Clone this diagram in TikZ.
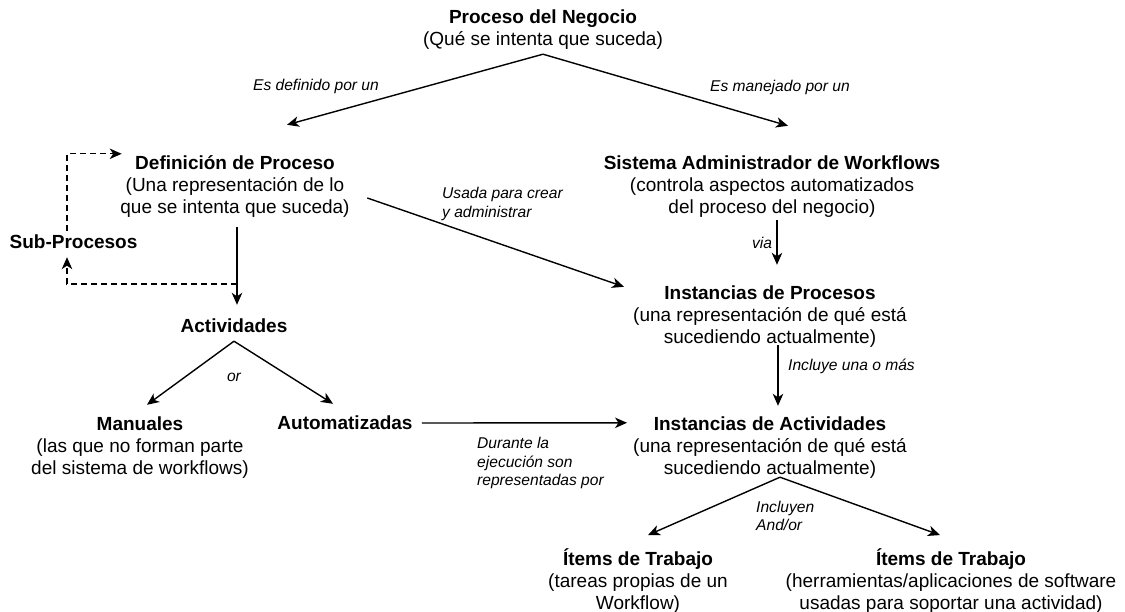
\documentclass[tikz,border=0pt]{standalone}
\usepackage{fontspec}
\setmainfont{Liberation Sans}
\usetikzlibrary{arrows.meta}

\tikzset{
  bloque/.style = {align=center, inner sep=2pt, font=\fontsize{19}{22}\selectfont},
  etiqueta/.style = {inner sep=0pt, font=\fontsize{15.6}{18.7}\selectfont\itshape},
  flecha/.style = {line width=1.4pt, -{Stealth[length=12pt,width=10.5pt,inset=3.5pt]}},
  punteada/.style = {flecha, dash pattern=on 6pt off 4pt}
}

\begin{document}
\begin{tikzpicture}[x=1pt,y=-1pt]
    \useasboundingbox (0,0) rectangle (1125,612);

    \node [bloque] (negocio) at (543,30) {\strut\textbf{Proceso del Negocio}\\\strut(Qué se intenta que suceda)};
    \node [bloque] (definicion) at (235,187) {\strut\textbf{Definición de Proceso}\\\strut(Una representación de lo\\\strut que se intenta que suceda)};
    \node [bloque] (subprocesos) at (73.5,244) {\strut\textbf{Sub-Procesos}};
    \node [bloque] (actividades) at (234,328) {\strut\textbf{Actividades}};
    \node [bloque] (manuales) at (140,448) {\strut\textbf{Manuales}\\\strut(las que no forman parte\\\strut del sistema de workflows)};
    \node [bloque] (automatizadas) at (345,425) {\strut\textbf{Automatizadas}};

    \node [bloque] (sistema) at (772,187) {\strut\textbf{Sistema Administrador de Workflows}\\\strut(controla aspectos automatizados\\\strut del proceso del negocio)};
    \node [bloque] (instproc) at (770,317) {\strut\textbf{Instancias de Procesos}\\\strut(una representación de qué está\\\strut sucediendo actualmente)};
    \node [bloque] (instact) at (770,448) {\strut\textbf{Instancias de Actividades}\\\strut(una representación de qué está\\\strut sucediendo actualmente)};
    \node [bloque] (itemstrabajo) at (638,582) {\strut\textbf{Ítems de Trabajo}\\\strut(tareas propias de un\\\strut Workflow)};
    \node [bloque] (itemssoftware) at (951,582) {\strut\textbf{Ítems de Trabajo}\\\strut(herramientas/aplicaciones de software\\\strut usadas para soportar una actividad)};

    % etiquetas de las flechas
    \node [etiqueta] (definidopor) at (316,86) {Es definido por un};
    \node [etiqueta] (manejadopor) at (780,87) {Es manejado por un};
    \node [etiqueta, align=left, anchor=west] (usada) at (442,204) {Usada para crear\\y administrar};
    \node [etiqueta] (via) at (762,243) {via};
    \node [etiqueta] (disyuncion) at (234,377) {or};
    \node [etiqueta, anchor=west] (incluye) at (788,366) {Incluye una o más};
    \node [etiqueta, align=left, anchor=west] (durante) at (477,463) {Durante la\\ejecución son\\representadas por};
    \node [etiqueta, align=left, anchor=west] (incluyen) at (756,516) {Incluyen\\And/or};

    \draw [flecha] (negocio.south) -- ([shift={(52,-27)}]definicion.north);
    \draw [flecha] (negocio.south) -- ([shift={(16,-26)}]sistema.north);

    \draw [flecha] ([shift={(2,5)}]definicion.south) -- ([shift={(3,-10)}]actividades.north);
    \coordinate (desvio) at (237,284);
    \draw [punteada] (desvio) -| ([xshift=-6.5pt]subprocesos.south);
    \draw [punteada] ([xshift=-6.5pt]subprocesos.north) |- ([shift={(3.5,2)}]definicion.north west);

    \draw [flecha] ([shift={(15.5,11)}]definicion.east) -- ([shift={(-7,5)}]instproc.north west);
    \draw [flecha] ([shift={(5,-2)}]sistema.south) -- ([shift={(7,-17)}]instproc.north);

    \draw [flecha] (actividades.south) -- ([shift={(7,-8)}]manuales.north);
    \draw [flecha] (actividades.south) -- ([shift={(-12,-8)}]automatizadas.north);
    \draw [flecha] ([shift={(7,-2)}]automatizadas.east) -- ([shift={(-4,10)}]instact.north west);

    \draw [flecha] ([shift={(8,-7)}]instproc.south) -- ([shift={(8,-7)}]instact.north);
    \draw [flecha] ([shift={(10,-6)}]instact.south) -- ([shift={(10,-11)}]itemstrabajo.north);
    \draw [flecha] ([shift={(10,-6)}]instact.south) -- ([shift={(-11,-11)}]itemssoftware.north);
\end{tikzpicture}
\end{document}
